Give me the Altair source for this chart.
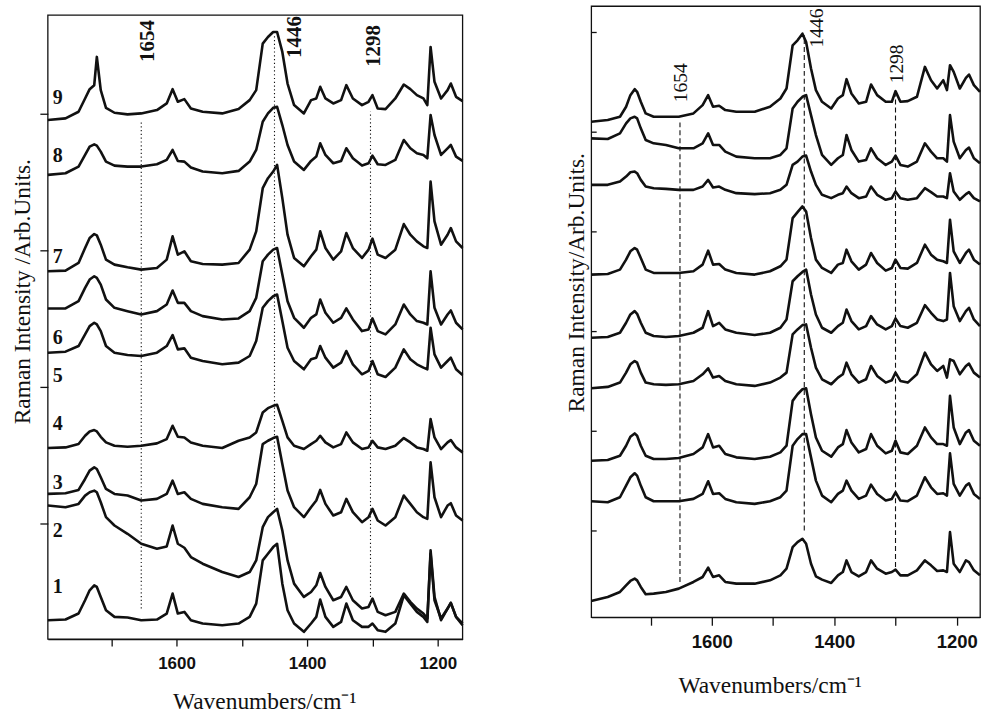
import altair as alt
import pandas as pd

# ---------------- data ----------------
# common wavenumber grid (cm-1)
WN = [1797, 1770, 1750, 1740, 1733, 1726, 1722, 1716, 1708, 1695,
      1675, 1654, 1630, 1615, 1606, 1598, 1588, 1578, 1560, 1530,
      1505, 1488, 1478, 1468, 1460, 1452, 1446, 1438, 1430, 1420,
      1405, 1394, 1386, 1380, 1372, 1360, 1348, 1340, 1330, 1316,
      1306, 1300, 1292, 1280, 1265, 1252, 1242, 1232, 1222, 1216,
      1211, 1205, 1195, 1185, 1180, 1172, 1162]

# left panel, stacked spectra 1 (bottom) .. 9 (top), arbitrary units
L1 = [57, 59, 77, 117, 147, 162, 157, 127, 87, 67,
      65, 57, 59, 77, 137, 77, 82, 57, 47, 42,
      47, 67, 107, 237, 257, 277, 287, 167, 87, 47,
      22, 47, 67, 119, 67, 37, 52, 107, 57, 37,
      37, 47, 27, 22, 47, 132, 107, 82, 67, 52,
      267, 127, 57, 92, 109, 67, 42]
L2 = [402, 397, 407, 432, 442, 447, 442, 412, 367, 342,
      317, 287, 272, 279, 342, 287, 275, 247, 227, 202,
      187, 202, 237, 337, 367, 382, 392, 327, 237, 167,
      127, 142, 162, 199, 157, 117, 127, 157, 117, 92,
      97, 122, 82, 72, 82, 137, 112, 92, 77, 62,
      257, 117, 62, 92, 109, 67, 47]
L3 = [437, 439, 449, 482, 507, 517, 512, 487, 452, 437,
      432, 417, 422, 437, 477, 437, 442, 422, 407, 397,
      392, 427, 467, 587, 597, 605, 609, 527, 447, 397,
      367, 397, 417, 449, 407, 372, 382, 422, 382, 352,
      367, 392, 357, 342, 367, 432, 407, 382, 367, 362,
      532, 427, 367, 402, 409, 372, 357]
L4 = [575, 577, 587, 612, 625, 629, 625, 609, 592, 582,
      579, 582, 589, 602, 642, 609, 607, 592, 582, 575,
      597, 607, 622, 682, 695, 702, 705, 657, 607, 582,
      572, 587, 597, 612, 592, 577, 587, 622, 592, 572,
      577, 597, 577, 572, 582, 605, 592, 577, 572, 567,
      662, 607, 572, 592, 599, 577, 562]
L5 = [862, 865, 882, 917, 942, 952, 947, 927, 882, 862,
      855, 852, 862, 882, 915, 872, 875, 847, 837, 827,
      832, 852, 897, 997, 1017, 1032, 1037, 957, 877, 837,
      812, 842, 847, 882, 847, 817, 832, 867, 827, 797,
      807, 837, 797, 789, 817, 872, 842, 827, 817, 812,
      937, 857, 817, 837, 847, 812, 795]
L6 = [995, 995, 1017, 1057, 1082, 1092, 1087, 1067, 1022, 997,
      987, 977, 987, 1007, 1049, 1012, 1012, 987, 972, 962,
      965, 987, 1027, 1137, 1157, 1172, 1177, 1097, 1017, 967,
      937, 967, 977, 1022, 982, 952, 967, 995, 962, 927,
      932, 965, 927, 917, 947, 1007, 977, 957, 952, 947,
      1107, 997, 947, 977, 989, 952, 932]
L7 = [1107, 1109, 1132, 1177, 1207, 1219, 1215, 1187, 1142, 1127,
      1119, 1112, 1117, 1142, 1212, 1157, 1167, 1137, 1129, 1127,
      1132, 1172, 1227, 1357, 1387, 1407, 1427, 1327, 1217, 1147,
      1122, 1152, 1172, 1227, 1177, 1142, 1167, 1222, 1177, 1147,
      1172, 1205, 1157, 1147, 1172, 1249, 1217, 1197, 1182, 1177,
      1377, 1257, 1187, 1217, 1237, 1197, 1177]
L8 = [1397, 1402, 1422, 1457, 1482, 1489, 1485, 1467, 1437, 1425,
      1422, 1422, 1429, 1442, 1472, 1439, 1437, 1419, 1407, 1402,
      1409, 1437, 1472, 1557, 1582, 1599, 1602, 1547, 1487, 1437,
      1412, 1439, 1452, 1492, 1457, 1432, 1439, 1477, 1447, 1425,
      1432, 1455, 1429, 1427, 1442, 1502, 1477, 1462, 1457, 1447,
      1577, 1517, 1457, 1477, 1487, 1452, 1439]
L9 = [1562, 1567, 1587, 1627, 1655, 1667, 1752, 1652, 1599, 1584,
      1579, 1582, 1592, 1612, 1655, 1617, 1625, 1597, 1587, 1582,
      1595, 1622, 1652, 1792, 1812, 1827, 1827, 1767, 1672, 1607,
      1582, 1622, 1627, 1662, 1627, 1612, 1622, 1667, 1627, 1607,
      1617, 1637, 1597, 1595, 1627, 1669, 1655, 1637, 1627, 1607,
      1782, 1677, 1627, 1652, 1672, 1632, 1619]

# right panel, stacked spectra top (R1) .. bottom (R9)
R1 = [1491, 1496, 1506, 1536, 1571, 1589, 1581, 1551, 1516, 1506,
      1506, 1506, 1516, 1541, 1571, 1536, 1539, 1526, 1521, 1521,
      1536, 1561, 1591, 1721, 1736, 1756, 1731, 1651, 1586, 1551,
      1531, 1561, 1571, 1619, 1576, 1546, 1551, 1603, 1571, 1551,
      1551, 1583, 1551, 1553, 1566, 1656, 1616, 1591, 1616, 1586,
      1661, 1641, 1591, 1623, 1633, 1601, 1581]
R2 = [1441, 1439, 1456, 1486, 1501, 1506, 1501, 1471, 1436, 1426,
      1421, 1411, 1411, 1426, 1456, 1421, 1421, 1401, 1386, 1381,
      1381, 1391, 1411, 1531, 1551, 1566, 1571, 1511, 1451, 1391,
      1361, 1381, 1391, 1451, 1406, 1371, 1376, 1411, 1381, 1361,
      1371, 1389, 1361, 1356, 1371, 1426, 1401, 1381, 1381, 1371,
      1511, 1431, 1381, 1406, 1413, 1381, 1366]
R3 = [1301, 1301, 1311, 1326, 1339, 1341, 1336, 1316, 1296, 1291,
      1289, 1286, 1286, 1296, 1316, 1293, 1296, 1286, 1276, 1273,
      1276, 1286, 1301, 1361, 1371, 1386, 1389, 1341, 1301, 1271,
      1261, 1271, 1276, 1296, 1276, 1261, 1266, 1296, 1271, 1256,
      1261, 1281, 1261, 1256, 1261, 1291, 1279, 1266, 1266, 1261,
      1336, 1281, 1256, 1273, 1279, 1261, 1251]
R4 = [1031, 1033, 1046, 1076, 1101, 1111, 1106, 1081, 1046, 1036,
      1036, 1036, 1041, 1061, 1103, 1061, 1063, 1046, 1036, 1031,
      1041, 1056, 1076, 1201, 1219, 1236, 1221, 1141, 1076, 1051,
      1036, 1061, 1066, 1106, 1071, 1046, 1061, 1096, 1066, 1043,
      1051, 1076, 1051, 1049, 1066, 1121, 1091, 1076, 1071, 1066,
      1196, 1101, 1066, 1096, 1106, 1076, 1061]
R5 = [841, 843, 856, 886, 911, 921, 913, 886, 856, 846,
      843, 846, 856, 871, 921, 876, 886, 866, 856, 849,
      856, 871, 896, 1011, 1026, 1039, 1046, 971, 911, 871,
      856, 876, 886, 926, 891, 866, 876, 906, 881, 866,
      876, 899, 876, 871, 886, 939, 916, 896, 891, 896,
      1036, 936, 891, 921, 931, 896, 876]
R6 = [689, 693, 706, 736, 761, 771, 766, 736, 706, 701,
      699, 701, 711, 731, 749, 721, 726, 711, 701, 696,
      706, 721, 736, 851, 866, 879, 881, 811, 751, 716,
      701, 721, 731, 766, 731, 706, 716, 756, 726, 706,
      713, 736, 711, 706, 731, 796, 761, 741, 756, 721,
      776, 771, 731, 756, 763, 736, 721]
R7 = [471, 473, 486, 516, 543, 553, 546, 516, 486, 476,
      476, 479, 491, 511, 551, 511, 516, 491, 481, 476,
      483, 496, 516, 651, 671, 686, 689, 611, 541, 501,
      483, 511, 521, 563, 526, 496, 506, 551, 516, 493,
      501, 531, 496, 491, 516, 571, 541, 521, 521, 516,
      666, 571, 521, 556, 563, 531, 516]
R8 = [349, 346, 361, 396, 421, 433, 426, 396, 361, 349,
      349, 349, 356, 371, 409, 371, 373, 356, 346, 341,
      349, 361, 381, 516, 536, 551, 551, 481, 411, 366,
      346, 371, 381, 411, 381, 356, 366, 399, 371, 351,
      356, 376, 351, 349, 366, 421, 391, 371, 373, 366,
      493, 401, 366, 396, 403, 371, 356]
R9 = [49, 61, 76, 96, 109, 116, 111, 91, 69, 71,
      76, 86, 106, 121, 149, 121, 126, 106, 101, 101,
      111, 126, 146, 211, 226, 236, 221, 161, 123, 113,
      103, 126, 136, 171, 136, 123, 136, 171, 146, 131,
      136, 143, 126, 126, 141, 171, 156, 139, 141, 136,
      256, 161, 136, 171, 166, 141, 126]

LEFT_SPECTRA = [L1, L2, L3, L4, L5, L6, L7, L8, L9]
RIGHT_SPECTRA = [R1, R2, R3, R4, R5, R6, R7, R8, R9]

# vertical marker lines (wavenumber, bottom, top)
L_MARK_WN = [1654, 1450, 1303]
L_MARK_BOT = [92, 397, 127]
L_MARK_TOP = [1557, 1822, 1587]
R_MARK_WN = [1652, 1449, 1300]
R_MARK_BOT = [106, 261, 151]
R_MARK_TOP = [1491, 1751, 1571]

PEAK_TEXT = ["1654", "1446", "1298"]
L_PEAK_WN = [1644, 1418, 1298]
L_PEAK_I = [1800, 1812, 1785]
R_PEAK_WN = [1651, 1428, 1297]
R_PEAK_I = [1608, 1773, 1665]

NUM_TEXT = ["1", "2", "3", "4", "5", "6", "7", "8", "9"]
NUM_WN = [1782] * 9
NUM_I = [156, 324, 471, 648, 792, 906, 1149, 1455, 1629]

X_DOMAIN = [1797, 1162]
X_TICKS = [1700, 1600, 1500, 1400, 1300, 1200]
L_Y_DOMAIN = [0, 1905]
L_FRAME_TOP = 1878
R_Y_DOMAIN = [0, 1839]
L_YTICKS = [348, 759, 1170, 1581]
R_YTICKS = [261, 561, 861, 1161, 1461, 1761]

SERIF = "Liberation Serif"
SANS = "Liberation Sans"
INK = "#111111"
X_TITLE = "Wavenumbers/cm⁻¹"


def spectra_df(spectra):
    rows = []
    for k, ys in enumerate(spectra, start=1):
        for w, v in zip(WN, ys):
            rows.append({"wn": w, "I": v, "sid": k})
    return pd.DataFrame(rows)


def x_enc(label_size, tick_size, label_pad, title_x, title_y):
    return alt.X(
        "wn:Q",
        title=X_TITLE,
        scale=alt.Scale(domain=X_DOMAIN, nice=False, zero=False),
        axis=alt.Axis(
            values=X_TICKS, format="d",
            labelExpr="datum.value % 200 == 0 ? datum.label : ''",
            labelFontSize=label_size, labelPadding=label_pad,
            tickSize=tick_size, titleX=title_x, titleY=title_y,
        ),
    )


def y_enc(domain, ticks, tick_size, offset, title, title_x, title_y):
    return alt.Y(
        "I:Q",
        title=title,
        scale=alt.Scale(domain=domain, nice=False, zero=False),
        axis=alt.Axis(
            values=ticks, labels=False, domain=False,
            tickSize=tick_size, offset=offset,
            titleAngle=270, titleX=title_x, titleY=title_y,
        ),
    )


# ---------------- left panel ----------------
LX = x_enc(17, 7, 9, 217, 70)
LY = y_enc(L_Y_DOMAIN, L_YTICKS, 8, 0, "Raman Intensity /Arb.Units.", -18, 286)

l_marks = pd.DataFrame({"wn": L_MARK_WN, "I": L_MARK_BOT, "I2": L_MARK_TOP})
l_rules = alt.Chart(l_marks).mark_rule(color=INK, strokeWidth=1.1, strokeDash=[1.2, 2.6]).encode(y2="I2:Q")
l_lines = alt.Chart(spectra_df(LEFT_SPECTRA)).mark_line(
    color=INK, strokeWidth=2.6, strokeJoin="round").encode(detail="sid:N")
l_nums = alt.Chart(pd.DataFrame({"wn": NUM_WN, "I": NUM_I, "t": NUM_TEXT})).mark_text(
    font=SERIF, fontWeight="bold", fontSize=20, color=INK, align="center", baseline="middle").encode(text="t:N")
l_peaks = alt.Chart(pd.DataFrame({"wn": L_PEAK_WN, "I": L_PEAK_I, "t": PEAK_TEXT})).mark_text(
    font=SERIF, fontWeight="bold", fontSize=21, color=INK, angle=270, align="center", baseline="middle").encode(text="t:N")
l_frame = alt.Chart(pd.DataFrame({"wn": [X_DOMAIN[0]], "wn2": [X_DOMAIN[1]],
                                  "I": [L_Y_DOMAIN[0]], "I2": [L_FRAME_TOP]})).mark_rect(
    fillOpacity=0, stroke=INK, strokeWidth=1.3).encode(x2="wn2:Q", y2="I2:Q")

left = alt.layer(l_rules, l_lines, l_nums, l_peaks, l_frame).encode(x=LX, y=LY).properties(
    width=416, height=635, view=alt.ViewBackground(stroke="transparent"))

# ---------------- right panel ----------------
RX = x_enc(18.5, 8, 7, 179, 76)
RY = y_enc(R_Y_DOMAIN, R_YTICKS, 5, -5, "Raman Intensity/Arb.Units.", -13, 277)

r_marks = pd.DataFrame({"wn": R_MARK_WN, "I": R_MARK_BOT, "I2": R_MARK_TOP})
r_rules = alt.Chart(r_marks).mark_rule(color=INK, strokeWidth=1.1, strokeDash=[5, 3]).encode(y2="I2:Q")
r_lines = alt.Chart(spectra_df(RIGHT_SPECTRA)).mark_line(
    color=INK, strokeWidth=2.6, strokeJoin="round").encode(detail="sid:N")
r_peaks = alt.Chart(pd.DataFrame({"wn": R_PEAK_WN, "I": R_PEAK_I, "t": PEAK_TEXT})).mark_text(
    font=SERIF, fontWeight="normal", fontSize=19.5, color=INK, angle=270, align="center", baseline="middle").encode(text="t:N")

right = alt.layer(r_rules, r_lines, r_peaks).encode(x=RX, y=RY).properties(
    width=390, height=613, view=alt.ViewBackground(stroke=INK, strokeWidth=1.3))

chart = alt.hconcat(left, right, spacing=129, bounds="flush").properties(
    padding={"left": 10, "top": 4, "right": 0, "bottom": 0},
    background="white",
).configure_axis(
    labelFont=SANS, labelFontWeight="bold", labelColor=INK,
    labelFlush=False, labelOverlap=False,
    tickColor=INK, tickWidth=1.3, domainColor=INK, domainWidth=1.3, grid=False,
    titleFont=SERIF, titleFontSize=23.5, titleFontWeight="normal", titleColor=INK,
    titleAlign="center", titleBaseline="alphabetic",
)

chart.save("out.html", embed_options={"renderer": "svg", "actions": False})
